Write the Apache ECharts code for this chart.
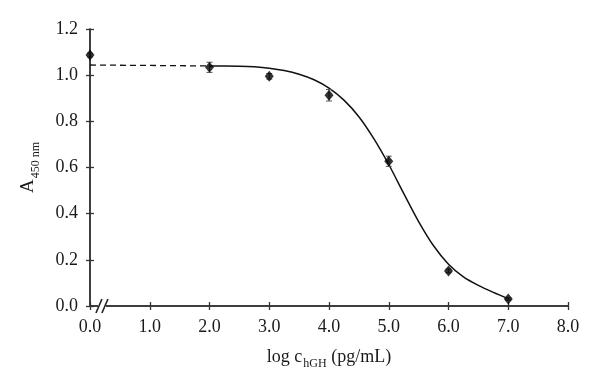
<!DOCTYPE html>
<html>
<head>
<meta charset="utf-8">
<script src="https://cdn.jsdelivr.net/npm/echarts@6/dist/echarts.min.js"></script>
<style>html,body{margin:0;padding:0;background:#fff}#c{width:600px;height:388px}</style>
</head>
<body>
<div id="c"></div>
<script>
// Measured points (log c, A450)
const pointX = [0, 2, 3, 4, 5, 6, 7];
const pointY = [1.087, 1.034, 0.995, 0.913, 0.627, 0.152, 0.030];
const pointErr = [0.008, 0.022, 0.012, 0.025, 0.022, 0.008, 0.005];
// Fitted curve
const curveX = [2.0, 2.25, 2.5, 2.75, 3.0, 3.25, 3.5, 3.75, 4.0, 4.25, 4.5, 4.75, 5.0, 5.25, 5.5, 5.75, 6.0, 6.25, 6.5, 6.75, 7.0];
const curveY = [1.040, 1.040, 1.039, 1.036, 1.030, 1.020, 1.004, 0.980, 0.944, 0.892, 0.820, 0.725, 0.613, 0.488, 0.366, 0.261, 0.181, 0.126, 0.089, 0.059, 0.032];
// Dashed extension to zero
const dashX = [0, 2];
const dashY = [1.044, 1.040];
const xTicks = [0, 1, 2, 3, 4, 5, 6, 7, 8];
const yTicks = [0, 0.2, 0.4, 0.6, 0.8, 1.0, 1.2];

const FONT = 'Liberation Serif';
const AX = '#333';
const TXT = '#1a1a1a';
const chart = echarts.init(document.getElementById('c'), null, {renderer: 'canvas'});

const baseX = {
  type: 'value', position: 'bottom', min: xTicks[0], max: xTicks[xTicks.length - 1], interval: 1,
  axisLine: {show: true, onZero: false, lineStyle: {color: AX, width: 1.5}},
  splitLine: {show: false}
};
const baseY = {
  type: 'value', position: 'left', min: yTicks[0], max: yTicks[yTicks.length - 1], interval: 0.2,
  axisLine: {show: true, onZero: false, lineStyle: {color: AX, width: 1.5}},
  splitLine: {show: false}
};

const option = {
  animation: false,
  grid: {left: 90, right: 32, top: 29, bottom: 82},
  textStyle: {fontFamily: FONT},
  xAxis: [
    Object.assign({}, baseX, {
      axisTick: {show: true, length: 4, inside: false, lineStyle: {color: AX, width: 1.3}},
      axisLabel: {color: TXT, fontSize: 18, fontFamily: FONT, margin: 12, formatter: v => v.toFixed(1)},
      name: '{a|log c}{s|hGH}{a| (pg/mL)}',
      nameLocation: 'middle', nameGap: 42,
      nameTextStyle: {
        rich: {
          a: {fontSize: 18, fontFamily: FONT, color: TXT, verticalAlign: 'bottom'},
          s: {fontSize: 12, fontFamily: FONT, color: TXT, verticalAlign: 'bottom', padding: [0, 0, -4, 1]}
        }
      }
    }),
    Object.assign({}, baseX, {
      axisTick: {show: true, length: 4, inside: true, lineStyle: {color: AX, width: 1.3}},
      axisLabel: {show: false}
    })
  ],
  yAxis: [
    Object.assign({}, baseY, {
      axisTick: {show: true, length: 4, inside: false, lineStyle: {color: AX, width: 1.3}},
      axisLabel: {color: TXT, fontSize: 18, fontFamily: FONT, margin: 12, formatter: v => v.toFixed(1)},
      name: '{a|A}{s|450 nm}',
      nameLocation: 'middle', nameGap: 52,
      nameTextStyle: {
        rich: {
          a: {fontSize: 19, fontFamily: FONT, color: TXT, verticalAlign: 'bottom'},
          s: {fontSize: 12, fontFamily: FONT, color: TXT, verticalAlign: 'bottom', padding: [0, 0, -4, 1]}
        }
      }
    }),
    Object.assign({}, baseY, {
      axisTick: {show: true, length: 4, inside: true, lineStyle: {color: AX, width: 1.3}},
      axisLabel: {show: false}
    })
  ],
  series: [
    {
      type: 'line', data: dashX.map((x, i) => [x, dashY[i]]),
      symbol: 'none', lineStyle: {color: '#111', width: 1.3, type: [6, 4]}, z: 3
    },
    {
      type: 'line', data: curveX.map((x, i) => [x, curveY[i]]),
      smooth: 0.3, symbol: 'none', lineStyle: {color: '#111', width: 1.5}, z: 3
    },
    {
      type: 'custom',
      data: pointX.map((x, i) => [x, pointY[i] - pointErr[i], pointY[i] + pointErr[i]]),
      renderItem: function (params, api) {
        const lo = api.coord([api.value(0), api.value(1)]);
        const hi = api.coord([api.value(0), api.value(2)]);
        const w = 3;
        const st = {stroke: '#555', lineWidth: 1};
        return {type: 'group', children: [
          {type: 'line', shape: {x1: lo[0], y1: lo[1], x2: hi[0], y2: hi[1]}, style: st},
          {type: 'line', shape: {x1: lo[0] - w, y1: lo[1], x2: lo[0] + w, y2: lo[1]}, style: st},
          {type: 'line', shape: {x1: hi[0] - w, y1: hi[1], x2: hi[0] + w, y2: hi[1]}, style: st}
        ]};
      },
      z: 4
    },
    {
      type: 'scatter', data: pointX.map((x, i) => [x, pointY[i]]),
      symbol: 'diamond', symbolSize: [9, 11], itemStyle: {color: '#000'}, z: 5
    }
  ]
};
chart.setOption(option);

// axis break mark "//" near the origin
function drawBreak() {
  const p1 = chart.convertToPixel({xAxisIndex: 0, yAxisIndex: 0}, [0.15, 0]);
  const p2 = chart.convertToPixel({xAxisIndex: 0, yAxisIndex: 0}, [0.25, 0]);
  const mk = (p) => ({type: 'line', shape: {x1: p[0] - 3, y1: p[1] + 7, x2: p[0] + 3, y2: p[1] - 7},
    style: {stroke: '#222', lineWidth: 1.6}, z: 10});
  chart.setOption({graphic: [
    {type: 'rect', shape: {x: p1[0] - 1, y: p1[1] - 2, width: p2[0] - p1[0] + 2, height: 4}, style: {fill: '#fff'}, z: 9},
    mk(p1), mk(p2)
  ]});
}
drawBreak();
</script>
</body>
</html>
